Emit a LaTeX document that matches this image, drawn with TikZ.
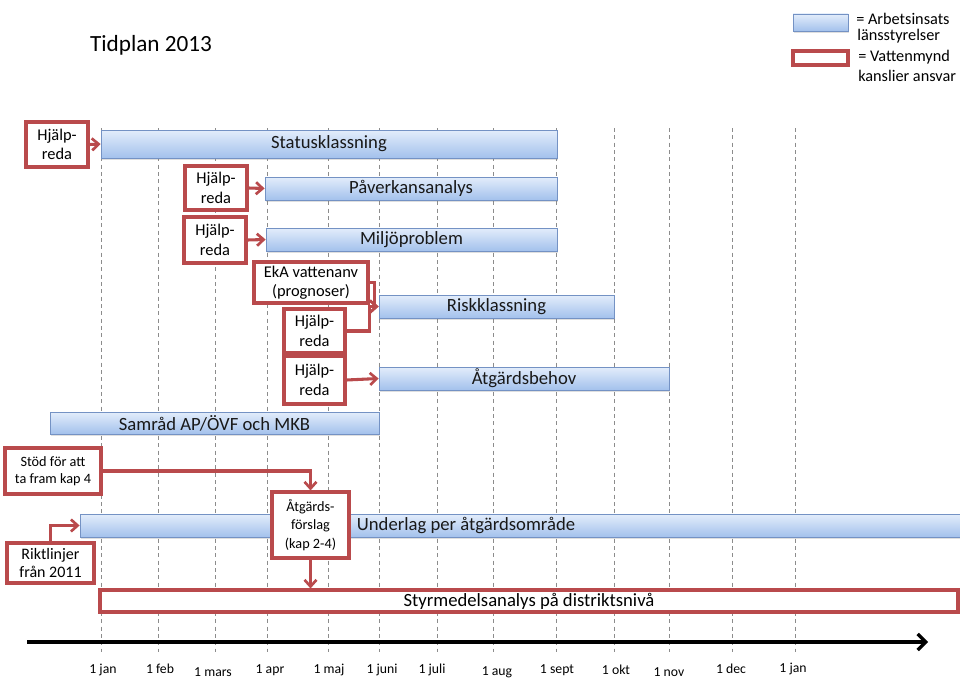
\documentclass[tikz,border=0pt]{standalone}
\usepackage{fontspec}
\setmainfont{Carlito}
\usetikzlibrary{arrows.meta,shadows,calc}
\definecolor{barTop}{HTML}{E3EDFB}
\definecolor{barBot}{HTML}{A3C1EC}
\definecolor{barLine}{HTML}{7492C4}
\definecolor{redLine}{HTML}{B94A4C}
\definecolor{gridC}{HTML}{8C8C8C}
\tikzset{
  pxw/.style={minimum width=#1*0.75pt},
  pxh/.style={minimum height=#1*0.75pt},
  bar/.style={draw=barLine, line width=0.6pt, top color=barTop, bottom color=barBot,
    inner sep=0pt, font=\fontsize{14}{16}\selectfont, text=black!90,
    drop shadow={shadow xshift=0.6pt, shadow yshift=-1.2pt, opacity=0.25}},
  redbox/.style={draw=redLine, line width=2.3pt, fill=white, inner sep=0pt,
    align=center, font=\fontsize{12.3}{14.5}\selectfont},
  conn/.style={draw=redLine, line width=2.3pt, -{Straight Barb[length=5pt,width=9pt,line width=2pt]}},
  gridline/.style={draw=gridC, line width=0.5pt, dash pattern=on 3pt off 2.5pt},
  month/.style={font=\fontsize{10.3}{12}\selectfont, inner sep=0pt},
  legtext/.style={font=\fontsize{12.2}{14}\selectfont, anchor=west, inner sep=0pt}
}
\begin{document}
\begin{tikzpicture}[x=0.75pt,y=-0.75pt]
\useasboundingbox (0,0) rectangle (960,699);
% grid lines
\foreach \gx in {101,158,215,267,328,379,437,493,556,614,669,732,795}
  \draw[gridline] (\gx,128) -- (\gx,652);
% title
\node[font=\fontsize{17.4}{20}\selectfont, inner sep=0pt] (title) at (151,45) {Tidplan 2013};
% legend
\node[bar, pxw=55, pxh=17] (legbar) at (820.5,22.5) {};
\node[redbox, pxw=55, pxh=14] (legred) at (820.5,58) {};
\node[legtext] (leg1) at (856,19) {= Arbetsinsats};
\node[legtext] (leg2) at (857,36) {länsstyrelser};
\node[legtext] (leg3) at (858,57) {= Vattenmynd};
\node[legtext] (leg4) at (858,76) {kanslier ansvar};
% bars
\node[bar, pxw=456, pxh=28] (status) at (329,144) {Statusklassning};
\node[bar, pxw=292, pxh=23] (pav) at (411,188.5) {Påverkansanalys};
\node[bar, pxw=291, pxh=23] (milj) at (411.5,239.5) {Miljöproblem};
\node[bar, pxw=235, pxh=23] (risk) at (496.5,306.5) {Riskklassning};
\node[bar, pxw=290, pxh=23] (atg) at (524,378.5) {Åtgärdsbehov};
\node[bar, pxw=329, pxh=22] (samr) at (214.5,423) {Samråd AP/ÖVF och MKB};
\node[bar, pxw=880, pxh=23] (underlag) at (520,525.5) {};
\node[font=\fontsize{14}{16}\selectfont, text=black!90, inner sep=0pt] (underlagtxt) at (466,525) {Underlag per åtgärdsområde};
\node[redbox, pxw=858, pxh=22, font=\fontsize{14}{16}\selectfont] (styr) at (529,601) {Styrmedelsanalys på distriktsnivå};
% red boxes
\node[redbox, pxw=62, pxh=45] (hj1) at (57,144.5) {Hjälp-\\reda};
\node[redbox, pxw=62, pxh=44] (hj2) at (216,188) {Hjälp-\\reda};
\node[redbox, pxw=62, pxh=46] (hj3) at (215,240) {Hjälp-\\reda};
\node[redbox, pxw=114, pxh=41, font=\fontsize{12.3}{14.5}\selectfont] (eka) at (311,282.5) {EkA vattenanv\\(prognoser)};
\node[redbox, pxw=61, pxh=44] (hj4) at (314.5,331) {Hjälp-\\reda};
\node[redbox, pxw=61, pxh=48] (hj5) at (314.5,380) {Hjälp-\\reda};
\node[redbox, pxw=96, pxh=46, font=\fontsize{10.7}{13}\selectfont] (stod) at (53,471) {Stöd för att\\ta fram kap 4};
\node[redbox, pxw=77, pxh=66, font=\fontsize{10.7}{14}\selectfont] (forslag) at (310.5,525) {Åtgärds-\\förslag\\(kap 2-4)};
\node[redbox, pxw=87, pxh=40, font=\fontsize{12}{14}\selectfont] (rikt) at (50.5,563) {Riktlinjer\\från 2011};
% connectors
\draw[conn] (hj1.east) -- (status.west);
\draw[conn] (hj2.east) -- (pav.west);
\draw[conn] (hj3.east) -- (milj.west);
\draw[conn] (eka.east) -- ++(5,0) |- (risk.west);
\draw[conn] (hj4.east) -- ++(23,0) |- (risk.west);
\draw[conn] (hj5.east) -- (atg.west);
\draw[conn] (stod.east) -| (forslag.north);
\draw[conn] (rikt.north) |- (underlag.west);
\draw[conn] (forslag.south) -- (forslag.south |- styr.north);
% time axis
\coordinate (axs) at (27,642);
\coordinate (axe) at (928,642);
\draw[line width=3pt, -{Straight Barb[length=6pt,width=12pt,line width=2.5pt]}] (axs) -- (axe);
% months
\node[month] (m1) at (103,670) {1 jan};
\node[month] (m2) at (160,669) {1 feb};
\node[month] (m3) at (213,672) {1 mars};
\node[month] (m4) at (270,670) {1 apr};
\node[month] (m5) at (329,670) {1 maj};
\node[month] (m6) at (382,670) {1 juni};
\node[month] (m7) at (432,670) {1 juli};
\node[month] (m8) at (497,672) {1 aug};
\node[month] (m9) at (557,670) {1 sept};
\node[month] (m10) at (616,670) {1 okt};
\node[month] (m11) at (669,672) {1 nov};
\node[month] (m12) at (731,669) {1 dec};
\node[month] (m13) at (793,669) {1 jan};
\end{tikzpicture}
\end{document}
